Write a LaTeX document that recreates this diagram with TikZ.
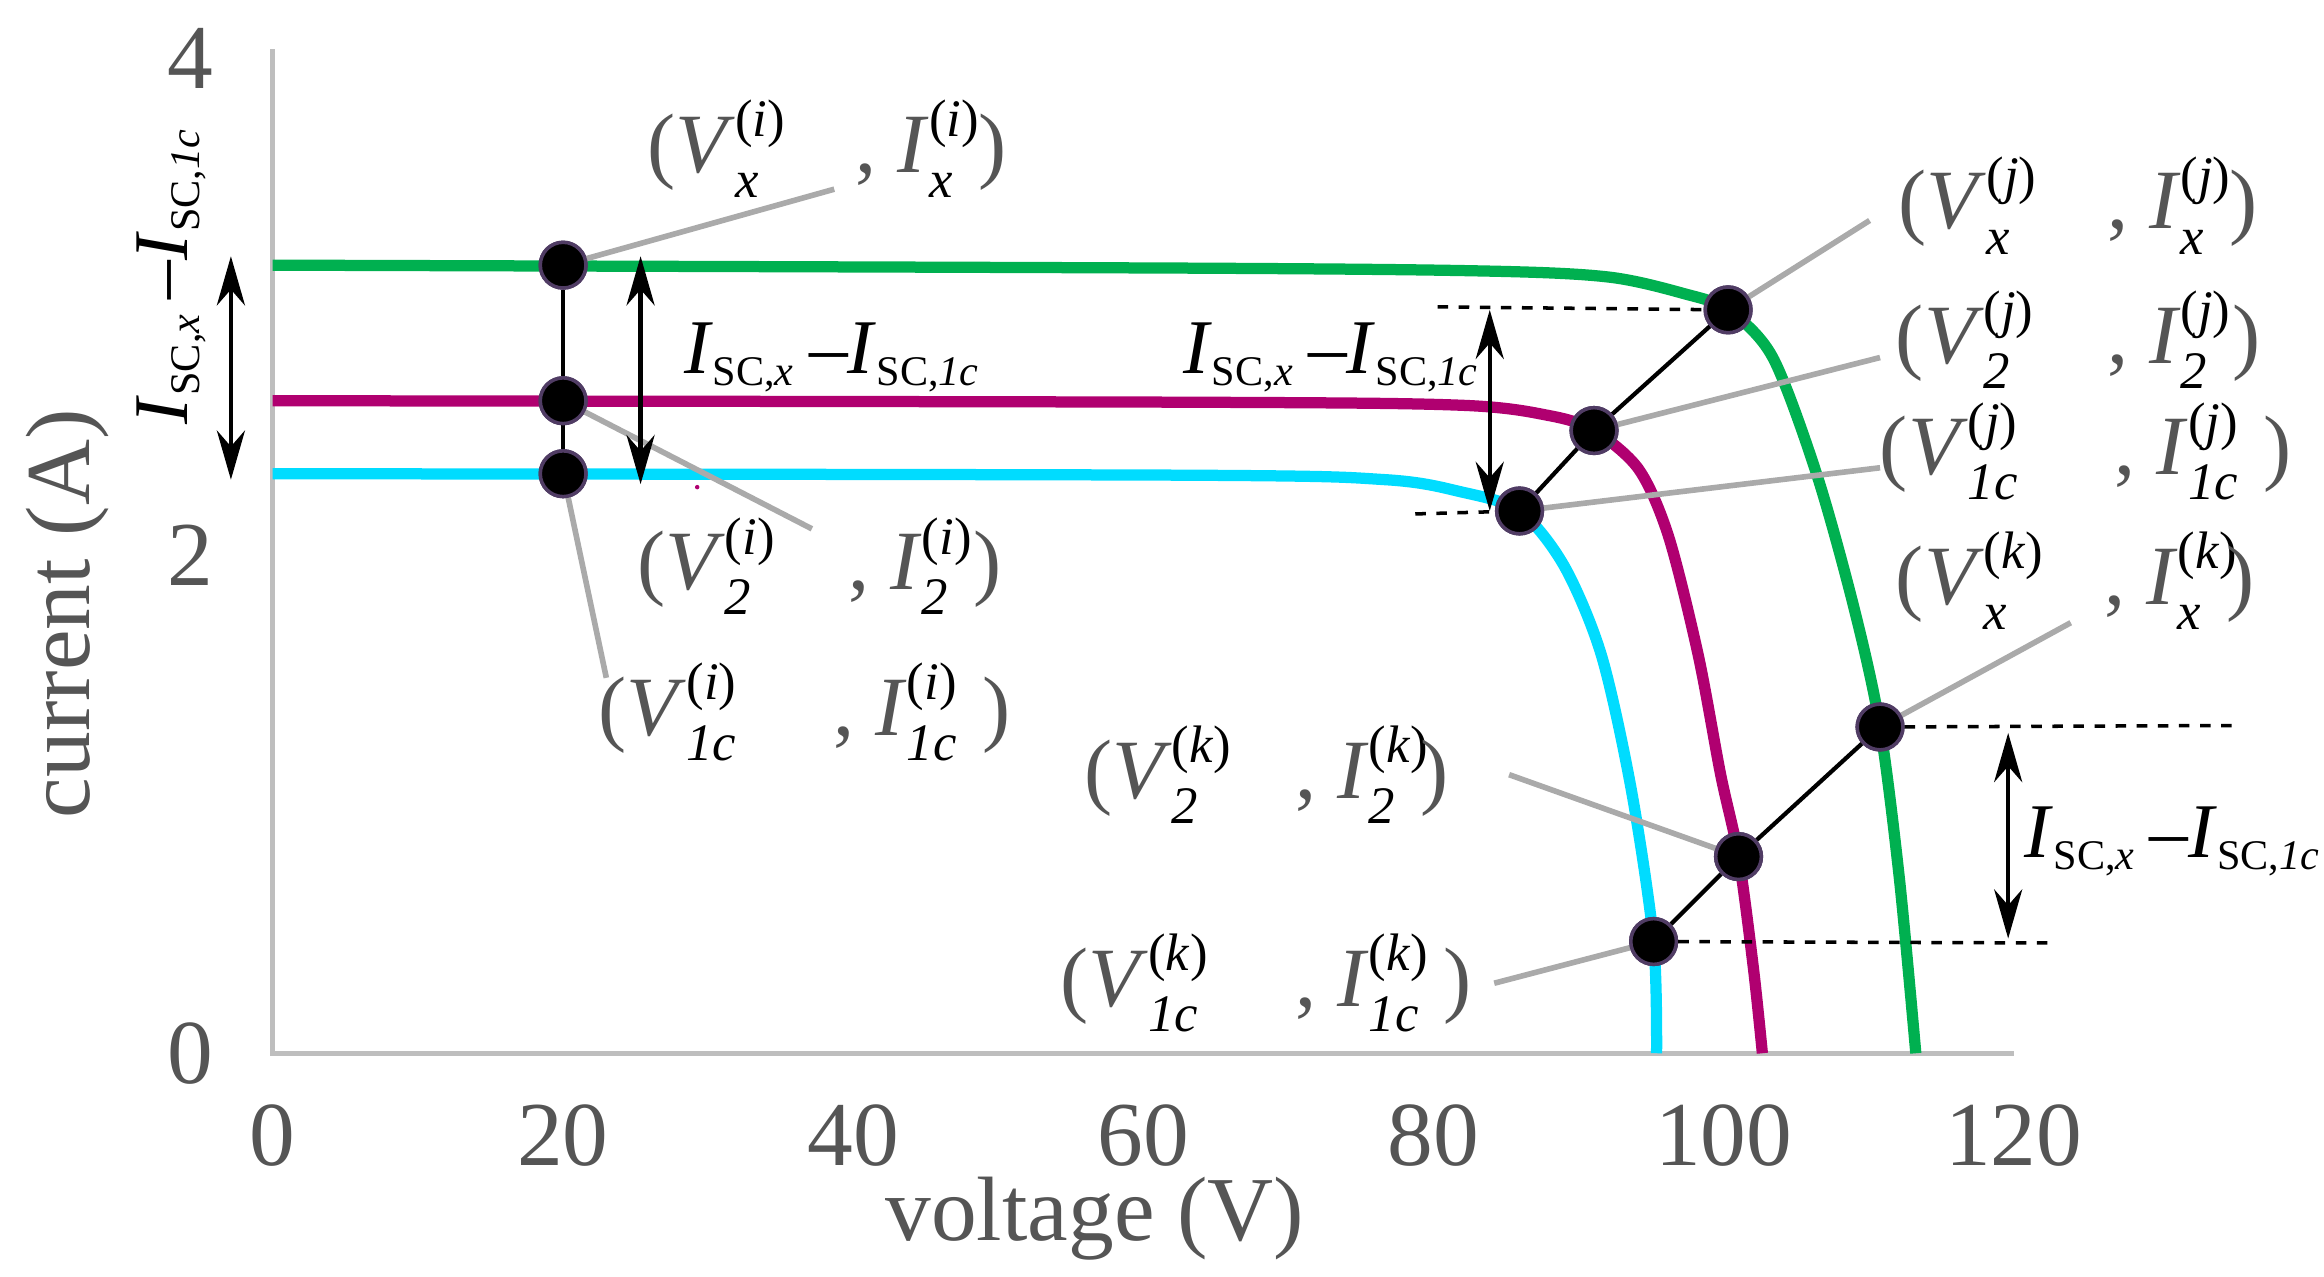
\documentclass[tikz,border=0pt]{standalone}
\usepackage{fontspec}
\setmainfont{Liberation Serif}
\usetikzlibrary{arrows.meta}
\definecolor{cgreen}{RGB}{0,176,80}
\definecolor{cmag}{RGB}{176,0,112}
\definecolor{ccyan}{RGB}{0,220,255}
\definecolor{tg}{RGB}{85,85,85}
\newcommand\sx[2]{\rlap{\raisebox{0.42em}{\color{black}\fontsize{15}{15}\selectfont(\textit{#2})}}\raisebox{-0.3em}{\color{black}\fontsize{15}{15}\selectfont\textit{#1}}}
\newcommand\pl[2]{(\textit{V}\sx{#1}{#2}\hspace{0.9em} , \textit{I}\sx{#1}{#2}\hspace{0.3em})}
\newcommand\isc{\textcolor{black}{\textit{I}\raisebox{-0.15em}{\fontsize{12}{12}\selectfont SC,\textit{x}}\hspace{0.2em}--\textit{I}\raisebox{-0.15em}{\fontsize{12}{12}\selectfont SC,\textit{1c}}}}
\begin{document}
\begin{tikzpicture}[x=0.0149cm,y=-0.0149cm,
 dot/.style={circle,fill=black,draw={rgb,255:red,80;green,60;blue,100},line width=1pt,minimum size=13pt,inner sep=0},
 lead/.style={draw={rgb,255:red,170;green,170;blue,170},line width=1.6pt},
 plab/.style={text=tg,font=\fontsize{24}{24}\selectfont,inner sep=0},
 islab/.style={font=\fontsize{22}{22}\selectfont,inner sep=0},
 tick/.style={text=tg,font=\fontsize{26}{26}\selectfont},
 dim/.style={black,line width=1.2pt,{Stealth[length=14pt,width=8pt]}-{Stealth[length=14pt,width=8pt]}},
 dsh/.style={black,dashed,line width=1pt},
 crv/.style={line width=3.2pt,line join=round}]
\useasboundingbox (0,0) rectangle (1560,857);
% axes
\draw[line width=1.5pt,color={rgb,255:red,190;green,190;blue,190}] (183,33) -- (183,707) -- (1352,707);
\foreach \v/\t in {4/4,2/2,0/0} \node[tick] at (128,{707-\v*167}) {\t};
\foreach \v in {0,20,...,120} \node[tick] at ({183+\v*9.74},762) {\v};
\node[tick] (xl) at (735,818) {voltage (V)};
\node[tick,rotate=90] (yl) at (45,412) {current (A)};
% curves
\draw[crv,cgreen] plot[smooth,tension=0.5] coordinates {(183,178) (800,180) (1000,182) (1080,186) (1130,197) (1160,208) (1190,240) (1220,320) (1245,410) (1262,488) (1275,590) (1286,707)};
\draw[crv,cmag] plot[smooth,tension=0.5] coordinates {(183,269) (800,270) (980,272) (1040,279) (1070,289) (1100,315) (1120,360) (1140,440) (1155,520) (1167,575) (1177,650) (1183,707)};
\draw[crv,ccyan] plot[smooth,tension=0.5] coordinates {(183,318) (800,319) (930,322) (980,330) (1020,343) (1050,380) (1075,440) (1095,530) (1110,632) (1112,707)};
\fill[cmag] (468,327) circle (1.5);
% dots
\node[dot] (xi) at (378,178) {}; \node[dot] (2i) at (378,269) {}; \node[dot] (1i) at (378,318) {};
\node[dot] (xj) at (1160,208) {}; \node[dot] (2j) at (1070,289) {}; \node[dot] (1j) at (1020,343) {};
\node[dot] (xk) at (1262,488) {}; \node[dot] (2k) at (1167,575) {}; \node[dot] (1k) at (1110,632) {};
\draw[black,line width=1.2pt] (xi) -- (2i) -- (1i);
\draw[black,line width=1.2pt] (1j) -- (2j) -- (xj);
\draw[black,line width=1.2pt] (1k) -- (2k) -- (xk);
% labels
\node[plab] (lxi) at (555,100) {\pl{x}{i}};
\node[plab] (l2i) at (550,380) {\pl{2}{i}};
\node[plab] (l1i) at (540,478) {\pl{1c}{i}};
\node[plab] (lxj) at (1395,138) {\pl{x}{j}};
\node[plab] (l2j) at (1395,228) {\pl{2}{j}};
\node[plab] (l1j) at (1400,303) {\pl{1c}{j}};
\node[plab] (lxk) at (1393,390) {\pl{x}{k}};
\node[plab] (l2k) at (850,520) {\pl{2}{k}};
\node[plab] (l1k) at (850,660) {\pl{1c}{k}};
\coordinate (a1) at (560,127); \coordinate (a2) at (545,355); \coordinate (a3) at (407,455);
\coordinate (b1) at (1255,148); \coordinate (b2) at (1262,240); \coordinate (b3) at (1262,314);
\coordinate (c1) at (1390,418); \coordinate (c2) at (1013,520); \coordinate (c3) at (1003,660);
\draw[lead] (xi.center) -- (a1); \draw[lead] (2i.center) -- (a2); \draw[lead] (1i.center) -- (a3);
\draw[lead] (xj.center) -- (b1); \draw[lead] (2j.center) -- (b2); \draw[lead] (1j.center) -- (b3);
\draw[lead] (xk.center) -- (c1); \draw[lead] (2k.center) -- (c2); \draw[lead] (1k.center) -- (c3);
\foreach \n in {xi,2i,1i,xj,2j,1j,xk,2k,1k} \node[dot] at (\n) {};
% dashed
\coordinate (d1) at (965,206); \coordinate (d2) at (950,345); \coordinate (d3) at (1500,487); \coordinate (d4) at (1380,633);
\draw[dsh] (d1) -- (xj); \draw[dsh] (d2) -- (1j); \draw[dsh] (xk) -- (d3); \draw[dsh] (1k) -- (d4);
% dims
\coordinate (e1) at (155,172); \coordinate (e2) at (155,322);
\coordinate (f1) at (430,172); \coordinate (f2) at (430,325);
\coordinate (g1) at (1000,208); \coordinate (g2) at (1000,343);
\coordinate (h1) at (1348,492); \coordinate (h2) at (1348,630);
\draw[dim] (e1) -- (e2); \draw[dim] (f1) -- (f2); \draw[dim] (g1) -- (g2); \draw[dim] (h1) -- (h2);
\node[islab,rotate=90] (t1) at (115,186) {\isc};
\node[islab] (t2) at (558,240) {\isc};
\node[islab] (t3) at (893,240) {\isc};
\node[islab] (t4) at (1458,565) {\isc};
\end{tikzpicture}
\end{document}
